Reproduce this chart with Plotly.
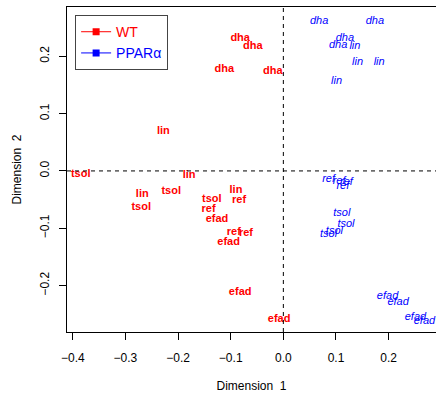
import plotly.graph_objects as go

# ---- data ----
wt_labels = ["dha", "dha", "dha", "dha", "lin", "lin", "lin", "lin",
             "tsol", "tsol", "tsol", "tsol", "ref", "ref", "ref", "ref",
             "efad", "efad", "efad", "efad"]
wt_x = [-0.082, -0.058, -0.112, -0.020, -0.228, -0.179, -0.268, -0.090,
        -0.385, -0.213, -0.270, -0.136, -0.084, -0.142, -0.094, -0.071,
        -0.126, -0.104, -0.082, -0.008]
wt_y = [0.232, 0.217, 0.178, 0.174, 0.069, -0.008, -0.040, -0.034,
        -0.005, -0.036, -0.064, -0.049, -0.052, -0.066, -0.107, -0.109,
        -0.085, -0.125, -0.212, -0.258]

ppar_labels = ["dha", "dha", "dha", "dha", "lin", "lin", "lin", "lin",
               "tsol", "tsol", "tsol", "tsol", "ref", "ref", "ref", "ref",
               "efad", "efad", "efad", "efad"]
ppar_x = [0.068, 0.174, 0.117, 0.104, 0.136, 0.141, 0.182, 0.101,
          0.111, 0.119, 0.097, 0.086, 0.086, 0.106, 0.120, 0.113,
          0.198, 0.218, 0.251, 0.268]
ppar_y = [0.261, 0.261, 0.232, 0.220, 0.218, 0.189, 0.189, 0.157,
          -0.074, -0.093, -0.106, -0.111, -0.015, -0.018, -0.020, -0.026,
          -0.219, -0.229, -0.255, -0.262]

x_ticks = [-0.4, -0.3, -0.2, -0.1, 0.0, 0.1, 0.2]
y_ticks = [-0.2, -0.1, 0.0, 0.1, 0.2]
group_names = ["WT", "PPARα"]
group_colors = ["#FF0000", "#0000FF"]

FONT = "Liberation Sans, Arial, Helvetica, sans-serif"

fig = go.Figure()

fig.add_trace(go.Scatter(
    x=wt_x, y=wt_y, text=wt_labels, mode="text",
    textfont=dict(family=FONT, size=11, color=group_colors[0], weight="bold"),
    textposition="middle center", showlegend=False, cliponaxis=False,
    hoverinfo="skip"))
fig.add_trace(go.Scatter(
    x=ppar_x, y=ppar_y, text=ppar_labels, mode="text",
    textfont=dict(family=FONT, size=11, color=group_colors[1], style="italic"),
    textposition="middle center", showlegend=False, cliponaxis=False,
    hoverinfo="skip"))

# legend entries
for name, col in zip(group_names, group_colors):
    fig.add_trace(go.Scatter(
        x=[None], y=[None], mode="lines+markers",
        name=f"<span style='color:{col}'>{name}</span>",
        line=dict(color=col, width=1),
        marker=dict(symbol="square", size=7, color=col)))

# reference lines at 0
fig.add_shape(type="line", xref="x", yref="paper", x0=0, x1=0, y0=0, y1=1,
              line=dict(color="black", width=1, dash="4px,4px"))
fig.add_shape(type="line", xref="paper", yref="y", x0=0, x1=1, y0=0, y1=0,
              line=dict(color="black", width=1, dash="4px,4px"))

fig.update_layout(
    width=436, height=393,
    margin=dict(l=67, r=0, t=7, b=61, autoexpand=False),
    paper_bgcolor="white", plot_bgcolor="white",
    font=dict(family=FONT, size=12, color="black"),
    legend=dict(
        x=0.022, y=0.975, xanchor="left", yanchor="top",
        bgcolor="white", bordercolor="#444444", borderwidth=1,
        font=dict(family=FONT, size=14),
        tracegroupgap=0, itemwidth=30),
    xaxis=dict(
        range=[-0.411, 0.290], tickvals=x_ticks, tickformat=".1f",
        showgrid=False, zeroline=False, automargin=False,
        showline=True, linecolor="black", linewidth=1, mirror=True,
        ticks="outside", ticklen=7, tickcolor="black", ticklabelstandoff=8,
        title=dict(text="Dimension\u00a0\u00a01", font=dict(size=12), standoff=17)),
    yaxis=dict(
        range=[-0.281, 0.286], tickvals=y_ticks, tickformat=".1f",
        showgrid=False, zeroline=False, automargin=False,
        showline=True, linecolor="black", linewidth=1, mirror=False,
        ticks="outside", ticklen=7, tickcolor="black", tickangle=-90,
        ticklabelstandoff=5,
        title=dict(text="Dimension\u00a0\u00a02", font=dict(size=12), standoff=14)),
)

fig.write_html(
    "out.html",
    config={"displayModeBar": False},
    post_script="document.body.style.margin='0';document.body.style.overflow='hidden';")
